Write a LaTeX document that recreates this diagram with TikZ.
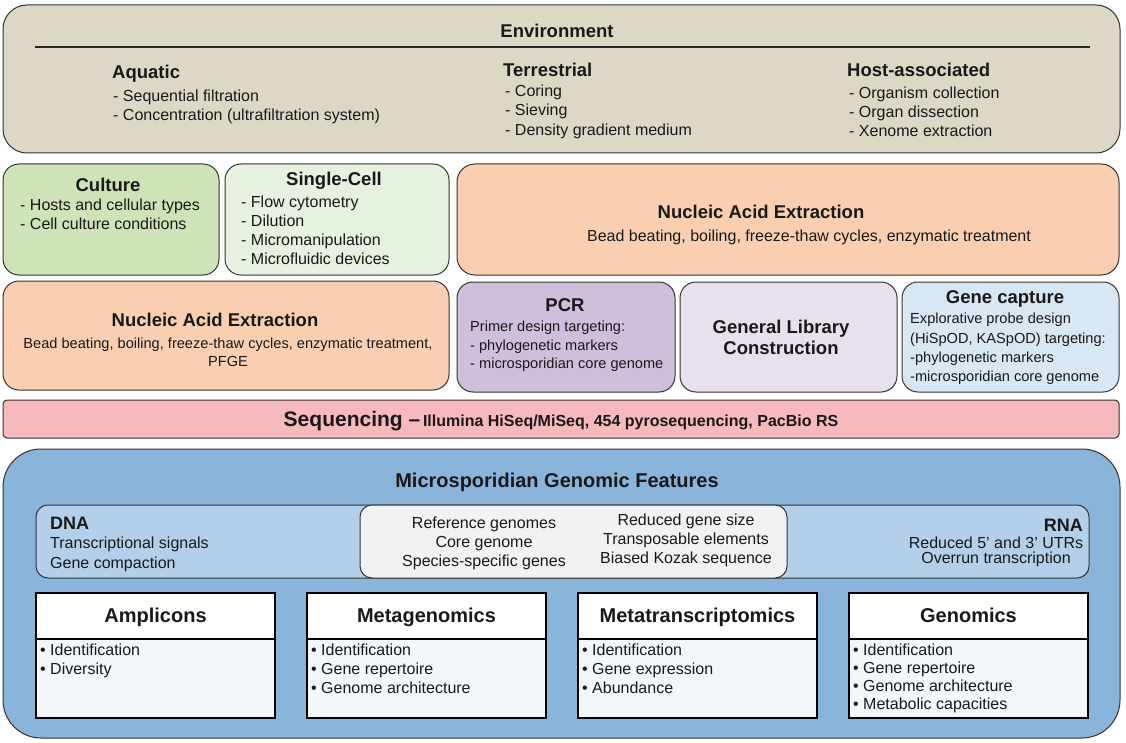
\documentclass[tikz,border=0pt]{standalone}
\usepackage{fontspec}
\setmainfont{Liberation Sans}
\definecolor{envfill}{HTML}{DDD8C5}
\definecolor{culfill}{HTML}{CFE3B8}
\definecolor{scfill}{HTML}{E7F1DF}
\definecolor{nafill}{HTML}{FACFB1}
\definecolor{pcrfill}{HTML}{CEBFDB}
\definecolor{libfill}{HTML}{E9E0EE}
\definecolor{capfill}{HTML}{D8E7F4}
\definecolor{seqfill}{HTML}{F6B9BC}
\definecolor{featfill}{HTML}{8BB4DB}
\definecolor{stripfill}{HTML}{B3CFEA}
\definecolor{midfill}{HTML}{F2F2F4}
\definecolor{bodyfill}{HTML}{F3F6FA}
\definecolor{edge}{HTML}{333333}
\begin{document}
\begin{tikzpicture}[x=1pt,y=-1pt,
  panel/.style={draw=edge, line width=1pt, inner sep=0pt, outer sep=0pt, anchor=north west},
  methodbox/.style={draw=black, line width=2.4pt, inner sep=0pt, outer sep=0pt, anchor=north west, minimum width=239pt},
  ttl/.style={inner sep=0pt, anchor=base, font=\fontsize{18.5}{22}\selectfont\bfseries, text=black!90},
  big/.style={inner sep=0pt, anchor=base, font=\fontsize{20}{24}\selectfont\bfseries, text=black!90},
  txt/.style={inner sep=0pt, anchor=base west, font=\fontsize{16}{19}\selectfont, text=black!90},
  ctxt/.style={txt, anchor=base},
  stxt/.style={txt, font=\fontsize{14.6}{17}\selectfont},
  sctxt/.style={stxt, anchor=base},
  btxt/.style={txt, font=\fontsize{18}{21}\selectfont\bfseries},
]
\useasboundingbox (0,0) rectangle (1126,743);

% ---------- Environment ----------
\node[panel, fill=envfill, rounded corners=24pt, minimum width=1117pt, minimum height=148pt] (env) at (3,5) {};
\node[ttl] (envt) at (557,37.5) {Environment};
\coordinate (rl) at (35,47);
\coordinate (rr) at (1090,47);
\draw[line width=1.6pt, black!85] (rl) -- (rr);
\node[ttl, anchor=base west] (aq) at (112,78.5) {Aquatic};
\node[txt] (aq1) at (113,102) {- Sequential filtration};
\node[txt] (aq2) at (113,121) {- Concentration (ultrafiltration system)};
\node[ttl, anchor=base west] (te) at (503,76.5) {Terrestrial};
\node[txt] (te1) at (505,97) {- Coring};
\node[txt] (te2) at (505,116) {- Sieving};
\node[txt] (te3) at (505,136) {- Density gradient medium};
\node[ttl, anchor=base west] (ho) at (847,76.5) {Host-associated};
\node[txt] (ho1) at (849,99) {- Organism collection};
\node[txt] (ho2) at (849,118) {- Organ dissection};
\node[txt] (ho3) at (849,137) {- Xenome extraction};

% ---------- Culture / Single-cell ----------
\node[panel, fill=culfill, rounded corners=16pt, minimum width=216pt, minimum height=111pt] (cul) at (3,164) {};
\node[ttl] (cult) at (108,191.5) {Culture};
\node[txt] (cul1) at (20,211) {- Hosts and cellular types};
\node[txt] (cul2) at (20,230) {- Cell culture conditions};

\node[panel, fill=scfill, rounded corners=16pt, minimum width=224pt, minimum height=111pt] (sc) at (225,164) {};
\node[ttl] (sct) at (334,185.5) {Single-Cell};
\node[txt] (sc1) at (241,208) {- Flow cytometry};
\node[txt] (sc2) at (241,227) {- Dilution};
\node[txt] (sc3) at (241,246) {- Micromanipulation};
\node[txt] (sc4) at (241,265) {- Microfluidic devices};

% ---------- Nucleic acid extraction (two panels) ----------
\node[panel, fill=nafill, rounded corners=18pt, minimum width=662pt, minimum height=111pt] (nar) at (457,164) {};
\node[ttl] (nart) at (761,218.5) {Nucleic Acid Extraction};
\node[ctxt] (nars) at (809,241) {Bead beating, boiling, freeze-thaw cycles, enzymatic treatment};

\node[panel, fill=nafill, rounded corners=16pt, minimum width=446pt, minimum height=109pt] (nal) at (3,281) {};
\node[ttl] (nalt) at (215,326.5) {Nucleic Acid Extraction};
\node[sctxt] (nal1) at (228,348) {Bead beating, boiling, freeze-thaw cycles, enzymatic treatment,};
\node[sctxt] (nal2) at (228,366) {PFGE};

% ---------- PCR / library / capture ----------
\node[panel, fill=pcrfill, rounded corners=16pt, minimum width=218pt, minimum height=110pt] (pcr) at (457,282) {};
\node[ttl] (pcrt) at (565,311.5) {PCR};
\node[stxt] (pcr1) at (470,331) {Primer design targeting:};
\node[stxt] (pcr2) at (470,350) {- phylogenetic markers};
\node[stxt] (pcr3) at (470,368) {- microsporidian core genome};

\node[panel, fill=libfill, rounded corners=16pt, minimum width=217pt, minimum height=110pt] (lib) at (680,282) {};
\node[ttl] (lib1) at (781,333.5) {General Library};
\node[ttl] (lib2) at (781,354.5) {Construction};

\node[panel, fill=capfill, rounded corners=16pt, minimum width=217pt, minimum height=110pt] (cap) at (902,282) {};
\node[ttl] (capt) at (1005,303.5) {Gene capture};
\node[stxt] (cap1) at (910,323) {Explorative probe design};
\node[stxt] (cap2) at (910,343) {(HiSpOD, KASpOD) targeting:};
\node[stxt] (cap3) at (910,362) {-phylogenetic markers};
\node[stxt] (cap4) at (910,381) {-microsporidian core genome};

% ---------- Sequencing ----------
\node[panel, fill=seqfill, rounded corners=4pt, minimum width=1116pt, minimum height=38pt] (seq) at (3,400) {};
\node[inner sep=0pt, anchor=base, text=black!90] (seqt) at (561,426)
  {{\fontsize{21}{24}\selectfont\bfseries Sequencing –} {\fontsize{16}{19}\selectfont\bfseries Illumina HiSeq/MiSeq, 454 pyrosequencing, PacBio RS}};

% ---------- Genomic features ----------
\node[panel, fill=featfill, rounded corners=38pt, minimum width=1117pt, minimum height=289pt] (feat) at (3,449) {};
\node[big] (featt) at (557,487.5) {Microsporidian Genomic Features};

\node[panel, fill=stripfill, rounded corners=12pt, minimum width=1053pt, minimum height=73pt] (strip) at (36,505) {};
\node[panel, fill=midfill, rounded corners=12pt, minimum width=427pt, minimum height=73pt] (mid) at (360,505) {};

\node[btxt] (dna) at (50,529) {DNA};
\node[txt] (dna1) at (50,548) {Transcriptional signals};
\node[txt] (dna2) at (50,568) {Gene compaction};

\node[ctxt] (m1) at (484,528) {Reference genomes};
\node[ctxt] (m2) at (484,547) {Core genome};
\node[ctxt] (m3) at (484,566) {Species-specific genes};
\node[ctxt] (m4) at (686,525) {Reduced gene size};
\node[ctxt] (m5) at (686,544) {Transposable elements};
\node[ctxt] (m6) at (686,563) {Biased Kozak sequence};

\node[btxt, anchor=base east] (rna) at (1083,531) {RNA};
\node[ctxt] (rna1) at (996,548) {Reduced 5’ and 3’ UTRs};
\node[ctxt] (rna2) at (996,563) {Overrun transcription};

% ---------- Four approach boxes ----------
\foreach \nm/\x/\t in {amp/36/Amplicons, meta/307/Metagenomics, mtr/578/Metatranscriptomics, gen/849/Genomics}{
  \node[methodbox, fill=bodyfill, minimum height=125pt] (\nm) at (\x,593) {};
  \node[methodbox, fill=white, minimum height=46pt] (\nm-h) at (\x,593) {};
  \node[big] (\nm-t) at (\x+119.5,622.5) {\t};
}
\node[txt] (amp1) at (40,655) {• Identification};
\node[txt] (amp2) at (40,674) {• Diversity};

\node[txt] (meta1) at (311,655) {• Identification};
\node[txt] (meta2) at (311,674) {• Gene repertoire};
\node[txt] (meta3) at (311,693) {• Genome architecture};

\node[txt] (mtr1) at (582,655) {• Identification};
\node[txt] (mtr2) at (582,674) {• Gene expression};
\node[txt] (mtr3) at (582,693) {• Abundance};

\node[txt] (gen1) at (853,655) {• Identification};
\node[txt] (gen2) at (853,673) {• Gene repertoire};
\node[txt] (gen3) at (853,691) {• Genome architecture};
\node[txt] (gen4) at (853,709) {• Metabolic capacities};
\end{tikzpicture}
\end{document}
